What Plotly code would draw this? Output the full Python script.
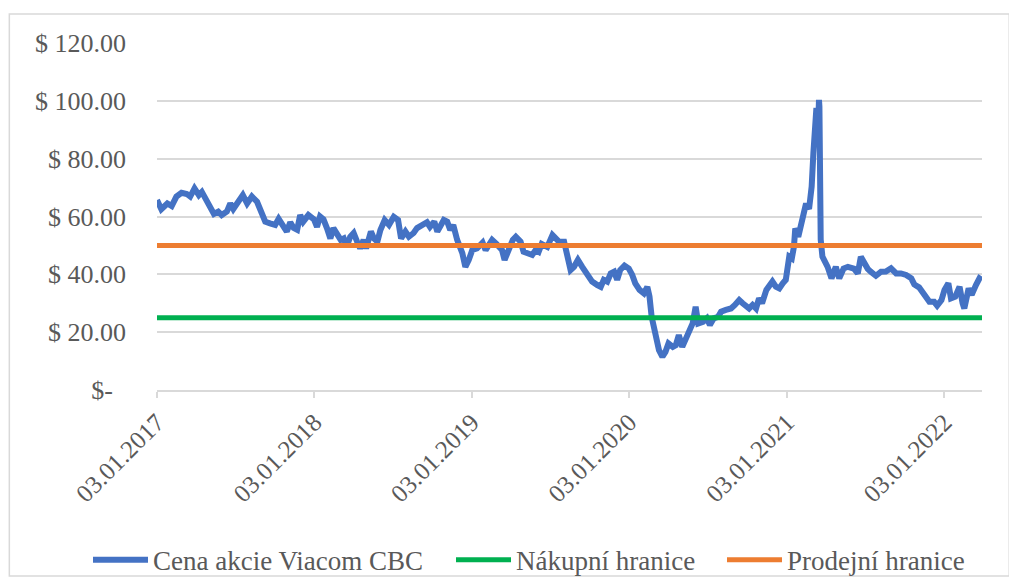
import plotly.graph_objects as go

# Viacom CBC share price
dates = [
    "2017-01-03", "2017-01-13", "2017-01-27", "2017-02-06", "2017-02-17", "2017-03-01",
    "2017-03-13", "2017-03-21", "2017-03-31", "2017-04-10", "2017-04-17", "2017-04-24",
    "2017-05-05", "2017-05-15", "2017-05-25", "2017-06-02", "2017-06-14", "2017-06-22",
    "2017-06-29", "2017-07-11", "2017-07-21", "2017-07-31", "2017-08-11", "2017-08-23",
    "2017-09-01", "2017-09-11", "2017-09-22", "2017-10-04", "2017-10-12", "2017-10-20",
    "2017-10-31", "2017-11-08", "2017-11-16", "2017-11-24", "2017-12-01", "2017-12-08",
    "2017-12-20", "2018-01-02", "2018-01-09", "2018-01-16", "2018-01-24", "2018-02-01",
    "2018-02-09", "2018-02-16", "2018-02-23", "2018-03-05", "2018-03-12", "2018-03-19",
    "2018-03-27", "2018-04-04", "2018-04-12", "2018-04-19", "2018-04-27", "2018-05-03",
    "2018-05-14", "2018-05-21", "2018-05-29", "2018-06-05", "2018-06-15", "2018-06-25",
    "2018-07-06", "2018-07-16", "2018-07-23", "2018-08-02", "2018-08-10", "2018-08-21",
    "2018-08-29", "2018-09-10", "2018-09-21", "2018-09-28", "2018-10-08", "2018-10-15",
    "2018-10-22", "2018-10-30", "2018-11-07", "2018-11-14", "2018-11-21", "2018-11-30",
    "2018-12-12", "2018-12-19", "2018-12-27", "2019-01-04", "2019-01-15", "2019-01-28",
    "2019-02-04", "2019-02-11", "2019-02-19", "2019-03-01", "2019-03-14", "2019-03-20",
    "2019-03-29", "2019-04-08", "2019-04-15", "2019-04-26", "2019-05-03", "2019-05-10",
    "2019-05-23", "2019-05-31", "2019-06-07", "2019-06-14", "2019-06-27", "2019-07-09",
    "2019-07-16", "2019-07-24", "2019-08-05", "2019-08-12", "2019-08-20", "2019-08-28",
    "2019-09-06", "2019-09-16", "2019-09-27", "2019-10-09", "2019-10-21", "2019-10-29",
    "2019-11-05", "2019-11-13", "2019-11-21", "2019-11-29", "2019-12-06", "2019-12-13",
    "2019-12-23", "2020-01-02", "2020-01-10", "2020-01-17", "2020-01-27", "2020-02-06",
    "2020-02-14", "2020-02-19", "2020-02-24", "2020-02-28", "2020-03-06", "2020-03-12",
    "2020-03-20", "2020-03-27", "2020-04-03", "2020-04-13", "2020-04-20", "2020-04-27",
    "2020-05-05", "2020-05-13", "2020-05-21", "2020-05-29", "2020-06-05", "2020-06-11",
    "2020-06-22", "2020-07-01", "2020-07-08", "2020-07-17", "2020-07-27", "2020-08-03",
    "2020-08-14", "2020-08-26", "2020-09-04", "2020-09-14", "2020-09-22", "2020-09-29",
    "2020-10-07", "2020-10-15", "2020-10-23", "2020-10-30", "2020-11-06", "2020-11-16",
    "2020-11-23", "2020-11-30", "2020-12-08", "2020-12-16", "2020-12-24", "2020-12-31",
    "2021-01-08", "2021-01-14", "2021-01-19", "2021-01-22", "2021-01-29", "2021-02-04",
    "2021-02-09", "2021-02-16", "2021-02-23", "2021-03-01", "2021-03-05", "2021-03-08",
    "2021-03-09", "2021-03-12", "2021-03-15", "2021-03-18", "2021-03-19", "2021-03-22",
    "2021-03-26", "2021-04-07", "2021-04-16", "2021-04-26", "2021-05-04", "2021-05-14",
    "2021-05-24", "2021-06-07", "2021-06-16", "2021-06-23", "2021-07-01", "2021-07-09",
    "2021-07-16", "2021-07-28", "2021-08-09", "2021-08-20", "2021-09-01", "2021-09-13",
    "2021-09-24", "2021-10-06", "2021-10-18", "2021-10-25", "2021-11-05", "2021-11-17",
    "2021-11-29", "2021-12-10", "2021-12-17", "2021-12-27", "2022-01-03", "2022-01-12",
    "2022-01-18", "2022-01-28", "2022-02-07", "2022-02-14", "2022-02-18", "2022-02-28",
    "2022-03-07", "2022-03-17", "2022-03-25", "2022-03-31",
]
price = [
    65.7, 62.5, 64.5, 63.6, 66.9, 68.2,
    67.8, 66.9, 69.7, 67.4, 68.5, 66.3,
    63.4, 60.9, 61.7, 60.5, 61.7, 64.5,
    62.6, 65.1, 67.4, 64.5, 66.9, 65.1,
    61.7, 58.2, 57.6, 57.1, 59.2, 57.1,
    54.8, 58.0, 56.0, 55.4, 60.5, 58.2,
    60.5, 59.0, 56.4, 60.0, 59.0, 56.0,
    52.4, 56.0, 54.3, 51.9, 52.4, 49.6,
    53.0, 54.3, 51.3, 49.0, 51.9, 49.0,
    54.8, 52.4, 51.3, 55.3, 58.8, 57.1,
    59.9, 58.8, 52.4, 54.8, 53.0, 54.3,
    56.0, 57.1, 58.0, 56.4, 58.2, 54.8,
    56.4, 58.8, 58.2, 55.3, 57.1, 51.9,
    47.3, 42.6, 45.0, 48.4, 49.0, 51.0,
    48.4, 50.0, 51.9, 50.5, 48.4, 45.0,
    49.0, 51.9, 53.0, 51.3, 47.8, 47.3,
    46.7, 48.4, 47.8, 50.5, 49.5, 53.6,
    52.5, 51.3, 51.3, 46.1, 41.5, 42.6,
    45.0, 42.6, 39.8, 37.5, 36.3, 35.7,
    38.1, 37.5, 40.3, 40.9, 38.1, 41.5,
    43.0, 42.0, 39.8, 36.9, 34.6, 33.4,
    35.7, 32.3, 25.3, 21.9, 17.3, 13.8,
    11.5, 13.2, 16.1, 14.9, 15.5, 19.0,
    14.9, 17.3, 20.2, 23.0, 28.8, 23.0,
    23.6, 24.8, 22.5, 24.8, 25.3, 27.1,
    27.7, 28.2, 29.4, 31.1, 30.0, 29.4,
    28.2, 29.4, 28.2, 31.7, 30.0, 34.6,
    35.7, 37.5, 35.7, 35.1, 36.9, 38.1,
    46.1, 45.5, 49.6, 55.9, 53.0, 56.5,
    58.8, 64.5, 62.6, 70.3, 81.9, 88.8,
    96.2, 97.5, 86.5, 100.3, 98.0, 52.0,
    46.1, 42.6, 38.6, 42.6, 38.6, 42.0,
    42.6, 42.0, 40.3, 46.1, 43.5, 41.9,
    40.9, 39.5, 40.9, 41.0, 42.1, 40.3,
    40.3, 39.8, 38.6, 36.5, 35.5, 33.4,
    30.5, 30.5, 29.2, 31.1, 34.6, 36.9,
    31.7, 32.3, 35.7, 30.0, 28.2, 35.1,
    32.9, 36.3, 38.6, 38.0,
]

buy_limit = 25
sell_limit = 50

y_ticks = [0, 20, 40, 60, 80, 100, 120]
y_labels = ["$-\u00a0\u00a0", "$ 20.00", "$ 40.00", "$ 60.00", "$ 80.00", "$ 100.00", "$ 120.00"]
x_ticks = ["2017-01-03", "2018-01-03", "2019-01-03", "2020-01-03", "2021-01-03", "2022-01-03"]
x_labels = ["03.01.2017", "03.01.2018", "03.01.2019", "03.01.2020", "03.01.2021", "03.01.2022"]

grey = "#d9d9d9"
text_grey = "#595959"
font_name = "Liberation Serif"

fig = go.Figure()
fig.add_trace(go.Scatter(
    x=dates, y=price, mode="lines", name="Cena akcie Viacom CBC",
    line=dict(color="#4472c4", width=6), legend="legend",
))
fig.add_trace(go.Scatter(
    x=[dates[0], dates[-1]], y=[buy_limit, buy_limit], mode="lines",
    name="Nákupní hranice", line=dict(color="#00b050", width=5), legend="legend2",
))
fig.add_trace(go.Scatter(
    x=[dates[0], dates[-1]], y=[sell_limit, sell_limit], mode="lines",
    name="Prodejní hranice", line=dict(color="#ed7d31", width=5), legend="legend3",
))


def legend_at(left_px):
    # one legend box per entry so the gaps match the Excel layout
    return dict(
        orientation="h",
        xref="container", x=left_px / 1009, xanchor="left",
        yref="container", y=0.038, yanchor="middle",
        font=dict(size=27, color=text_grey),
        bgcolor="rgba(0,0,0,0)",
        itemwidth=55,
    )


# page body adds an 8px offset, so the figure is 8px smaller than the window
fig.update_layout(
    width=1009,
    height=574,
    margin=dict(l=149, r=35, t=35, b=192),
    paper_bgcolor="white",
    plot_bgcolor="white",
    font=dict(family=font_name, size=26, color=text_grey),
    showlegend=True,
    legend=legend_at(80),
    legend2=legend_at(443),
    legend3=legend_at(714),
    shapes=[dict(
        type="rect", xref="paper", yref="paper",
        x0=-0.179, x1=1.033, y0=-0.536, y1=1.0836,
        line=dict(color=grey, width=1.5), fillcolor="rgba(0,0,0,0)",
        layer="below",
    )],
)
fig.update_xaxes(
    type="date",
    range=[dates[0], dates[-1]],
    tickvals=x_ticks,
    ticktext=x_labels,
    tickangle=-45,
    ticks="outside",
    ticklen=6,
    tickcolor=grey,
    tickwidth=1.5,
    showgrid=False,
    showline=True,
    linecolor=grey,
    linewidth=1.5,
    zeroline=False,
    tickfont=dict(size=25, color=text_grey),
)
fig.update_yaxes(
    range=[0, 120],
    tickvals=y_ticks,
    ticktext=y_labels,
    showgrid=True,
    gridcolor=grey,
    gridwidth=1.5,
    zeroline=False,
    showline=False,
    ticks="",
    ticklabelstandoff=30,
    tickfont=dict(size=26, color=text_grey),
)

fig.write_html("out.html")
